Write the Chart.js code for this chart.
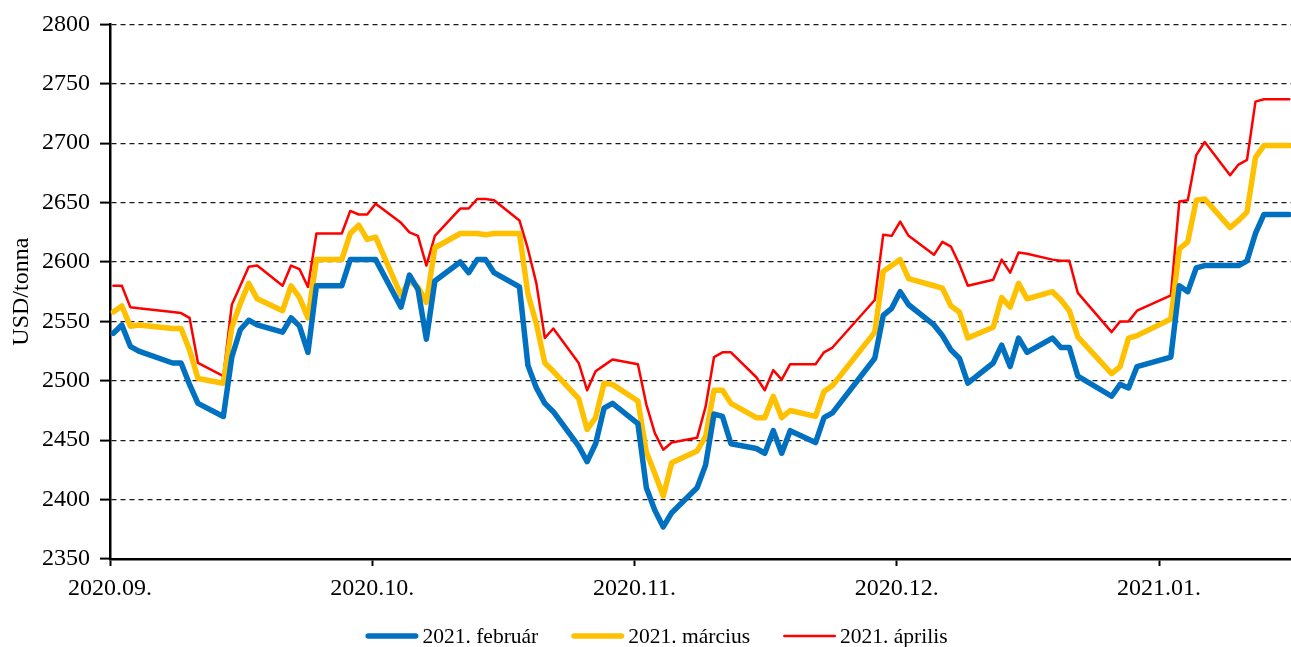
<!DOCTYPE html>
<html lang="hu">
<head>
<meta charset="UTF-8">
<title>Határidős jegyzések</title>
<style>
  html, body { margin: 0; padding: 0; background: #fff; }
  #wrap { width: 1291px; height: 647px; }
</style>
</head>
<body>
<div id="wrap"><canvas id="myChart"></canvas></div>

<script src="https://cdn.jsdelivr.net/npm/chart.js@4.4.1/dist/chart.umd.min.js"></script>
<script>
// kereskedési napok
const dates = [
  '2020-09-01','2020-09-02','2020-09-03','2020-09-04','2020-09-08','2020-09-09','2020-09-10','2020-09-11',
  '2020-09-14','2020-09-15','2020-09-16','2020-09-17','2020-09-18','2020-09-21','2020-09-22','2020-09-23',
  '2020-09-24','2020-09-25','2020-09-28','2020-09-29','2020-09-30',
  '2020-10-01','2020-10-02','2020-10-05','2020-10-06','2020-10-07','2020-10-08','2020-10-09','2020-10-12',
  '2020-10-13','2020-10-14','2020-10-15','2020-10-16','2020-10-19','2020-10-20','2020-10-21','2020-10-22',
  '2020-10-23','2020-10-26','2020-10-27','2020-10-28','2020-10-29','2020-10-30',
  '2020-11-02','2020-11-03','2020-11-04','2020-11-05','2020-11-06','2020-11-09','2020-11-10','2020-11-11',
  '2020-11-12','2020-11-13','2020-11-16','2020-11-17','2020-11-18','2020-11-19','2020-11-20','2020-11-23',
  '2020-11-24','2020-11-25','2020-11-30',
  '2020-12-01','2020-12-02','2020-12-03','2020-12-04','2020-12-07','2020-12-08','2020-12-09','2020-12-10',
  '2020-12-11','2020-12-14','2020-12-15','2020-12-16','2020-12-17','2020-12-18','2020-12-21','2020-12-22',
  '2020-12-23','2020-12-24','2020-12-28','2020-12-29','2020-12-30','2020-12-31',
  '2021-01-04','2021-01-05','2021-01-06','2021-01-07','2021-01-08','2021-01-11','2021-01-12','2021-01-13',
  '2021-01-14','2021-01-15','2021-01-18'
];

// 2021. február
const febr = [
  2540, 2547, 2529, 2525, 2515, 2515, 2497, 2481, 2470, 2520, 2543, 2551, 2547, 2541, 2553, 2546, 2524, 2580, 2580, 2602, 2602,
  2602, 2602, 2562, 2589, 2577, 2535, 2584, 2600, 2591, 2602, 2602, 2591, 2579, 2513, 2494, 2481, 2474, 2445, 2432, 2447, 2477, 2481,
  2464, 2410, 2391, 2377, 2389, 2410, 2429, 2472, 2470, 2447, 2443, 2439, 2458, 2439, 2458, 2448, 2469, 2473, 2519,
  2555, 2561, 2575, 2564, 2547, 2538, 2526, 2519, 2498, 2515, 2530, 2512, 2536, 2524, 2536, 2528, 2528, 2504, 2487, 2497, 2494, 2512,
  2520, 2580, 2575, 2595, 2597, 2597, 2597, 2601, 2624, 2640, 2640
];

// 2021. március
const marc = [
  2558, 2563, 2546, 2547, 2544, 2544, 2526, 2502, 2498, 2545, 2565, 2582, 2569, 2559, 2580, 2570, 2553, 2602, 2602, 2624, 2631,
  2619, 2621, 2572, 2584, 2579, 2566, 2612, 2624, 2624, 2624, 2623, 2624, 2624, 2573, 2548, 2515, 2508, 2485, 2459, 2469, 2498, 2497,
  2483, 2440, 2422, 2403, 2431, 2441, 2453, 2492, 2492, 2481, 2469, 2469, 2487, 2469, 2475, 2470, 2491, 2496, 2541,
  2592, 2597, 2602, 2586, 2580, 2578, 2563, 2558, 2536, 2545, 2570, 2562, 2582, 2569, 2575, 2568, 2559, 2537, 2506, 2512, 2536, 2538,
  2552, 2611, 2617, 2652, 2653, 2629, 2635, 2642, 2688, 2698, 2698
];

// 2021. április
const apr = [
  2580, 2580, 2562, 2561, 2558, 2557, 2553, 2515, 2504, 2564, 2580, 2596, 2597, 2580, 2597, 2594, 2579, 2624, 2624, 2643, 2640,
  2640, 2649, 2633, 2625, 2622, 2597, 2622, 2645, 2645, 2653, 2653, 2652, 2635, 2611, 2582, 2536, 2544, 2515, 2492, 2508, 2513, 2518,
  2514, 2480, 2456, 2442, 2448, 2452, 2478, 2520, 2524, 2524, 2503, 2492, 2509, 2501, 2514, 2514, 2524, 2528, 2568,
  2623, 2622, 2634, 2622, 2606, 2617, 2613, 2598, 2580, 2585, 2602, 2591, 2608, 2607, 2602, 2601, 2601, 2574, 2541, 2550, 2550, 2559,
  2572, 2651, 2652, 2690, 2701, 2673, 2682, 2686, 2735, 2737, 2737
];

const seriesNames = ['2021. február', '2021. március', '2021. április'];
const monthLabels = ['2020.09.', '2020.10.', '2020.11.', '2020.12.', '2021.01.'];

// napok száma 2020.09.01-től
const START = Date.UTC(2020, 8, 1);
function dayIndex(s) {
  const p = s.split('-').map(Number);
  return (Date.UTC(p[0], p[1] - 1, p[2]) - START) / 86400000;
}
function toPoints(vals) {
  return vals.map((v, i) => ({ x: dayIndex(dates[i]), y: v }));
}

const X_MIN = -0.4;
const X_MAX = 139.2;
const TICK_STEP = 31;
const FONT = '"Liberation Serif", "Times New Roman", serif';

// jelmagyarázat a diagram alján
const bottomLegend = {
  id: 'bottomLegend',
  afterDraw(chart) {
    const ctx = chart.ctx;
    const sets = chart.data.datasets;
    const sample = 53, gap = 4, space = 33, y = 636;
    ctx.save();
    ctx.font = '21.5px ' + FONT;
    ctx.textBaseline = 'middle';
    const widths = sets.map(ds => ctx.measureText(ds.label).width);
    let total = space * (sets.length - 1);
    widths.forEach(w => { total += sample + gap + w; });
    let x = 656.5 - total / 2;
    sets.forEach((ds, i) => {
      ctx.strokeStyle = ds.borderColor;
      ctx.lineWidth = ds.borderWidth;
      ctx.lineCap = 'round';
      ctx.beginPath();
      ctx.moveTo(x + ds.borderWidth / 2, y);
      ctx.lineTo(x + sample - ds.borderWidth / 2, y);
      ctx.stroke();
      x += sample + gap;
      ctx.fillStyle = '#000';
      ctx.fillText(ds.label, x, y + 1);
      x += widths[i] + space;
    });
    ctx.restore();
  }
};

function lineSet(label, vals, color, width) {
  return {
    label: label,
    data: toPoints(vals),
    borderColor: color,
    backgroundColor: color,
    borderWidth: width,
    borderJoinStyle: 'round',
    borderCapStyle: 'round',
    pointRadius: 0,
    tension: 0,
    fill: false
  };
}

const ctx = document.getElementById('myChart').getContext('2d');
const myChart = new Chart(ctx, {
  type: 'line',
  data: {
    datasets: [
      lineSet(seriesNames[0], febr, '#0070C0', 5.5),
      lineSet(seriesNames[1], marc, '#FFC000', 5.5),
      lineSet(seriesNames[2], apr, '#FF0000', 2.5)
    ]
  },
  options: {
    responsive: true,
    maintainAspectRatio: false,
    animation: false,
    layout: { padding: { top: 22, right: 0, bottom: 0, left: 0 } },
    plugins: {
      legend: { display: false },
      tooltip: { enabled: false }
    },
    scales: {
      x: {
        type: 'linear',
        min: X_MIN,
        max: X_MAX,
        afterBuildTicks: (scale) => {
          scale.ticks = monthLabels.map((_, i) => ({ value: X_MIN + i * TICK_STEP }));
        },
        afterFit: (scale) => { scale.height = 88; },
        ticks: {
          autoSkip: false,
          maxRotation: 0,
          padding: 8,
          color: '#000',
          font: { family: FONT, size: 24 },
          callback: (v, i) => monthLabels[i]
        },
        grid: {
          drawOnChartArea: false,
          drawTicks: true,
          tickLength: 7,
          tickWidth: 2,
          tickColor: '#000'
        },
        border: { display: true, color: '#000', width: 2.5 }
      },
      y: {
        min: 2350,
        max: 2800,
        afterFit: (scale) => { scale.width = 110; },
        ticks: {
          stepSize: 50,
          padding: 10,
          color: '#000',
          font: { family: FONT, size: 24 },
          callback: (v) => String(v)
        },
        grid: {
          color: '#1a1a1a',
          lineWidth: 1.2,
          drawTicks: true,
          tickLength: 10,
          tickWidth: 2,
          tickColor: '#000'
        },
        border: { display: true, color: '#000', width: 2.5, dash: [5, 4] },
        title: {
          display: true,
          text: 'USD/tonna',
          color: '#000',
          font: { family: FONT, size: 24 },
          padding: { top: 7, bottom: 0 }
        }
      }
    }
  },
  plugins: [bottomLegend]
});
</script>
</body>
</html>
